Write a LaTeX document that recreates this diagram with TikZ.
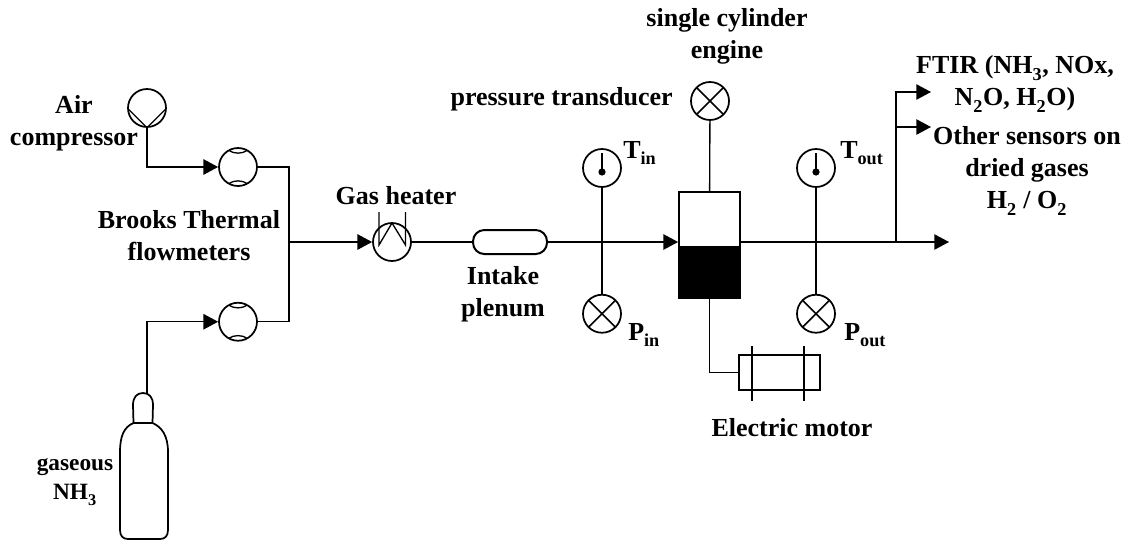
\documentclass[tikz,border=0pt]{standalone}
\usepackage{fontspec}
\setmainfont{Liberation Serif}
\usetikzlibrary{positioning,arrows.meta}
\def\subs#1{\raisebox{-1.5pt}{\textsubscript{#1}}}

\begin{document}
\begin{tikzpicture}[x=0.75pt,y=-0.75pt]
\tikzset{main/.style={circle, minimum size=28.5pt, inner sep=0pt, line width=1.3pt, draw=black, fill=white}}
\tikzset{connect/.style={-{Triangle[length=11pt,width=11.5pt]}, line width=1pt}}
\tikzset{pipe/.style={line width=1pt}}
\tikzset{lbl/.style={font=\fontsize{19.5}{24}\selectfont\bfseries, align=center, inner sep=0pt}}
\tikzset{crossed/.style={main, path picture={
  \draw[line width=1.3pt] (-19,-19) -- (19,19);
  \draw[line width=1.3pt] (-19,19) -- (19,-19);}}}
\tikzset{thermo/.style={main, path picture={
  \draw[line width=1.3pt] (0,-15) -- (0,4);
  \fill[black] (0,4) circle (2.7pt);}}}
\tikzset{meter/.style={main, path picture={
  \draw[pipe] (-9,-16.5) .. controls (-4,-13) and (4,-13) .. (9,-16.5);
  \draw[pipe] (-9,16.5) .. controls (-4,13) and (4,13) .. (9,16.5);}}}
\tikzset{pump/.style={main, path picture={
  \draw[pipe] (-18,1.7) -- (0,19.7) -- (18,1.7);}}}
\useasboundingbox (0,0) rectangle (1130,543);

% feed lines
  \node[pump] (comp) at (147,108) {};
  \node[meter] (ftop) at (238,167) {};
  \node[meter] (fbot) [below=86.25pt of ftop] {};
  \coordinate (bottletop) at (147,393);
  \coordinate (mix) at (289,242);

  \draw[line width=1.3pt] (133.5,423) -- (133,405) .. controls (133,397) and (137,393) .. (143,393)
    .. controls (149,393) and (153,397) .. (153,405) -- (152.5,423) -- cycle;
  \draw[line width=1.3pt] (133.5,423) .. controls (124,427) and (120,436) .. (120,452) -- (120,530)
    .. controls (120,536) and (123,539) .. (128,539) -- (160,539)
    .. controls (165,539) and (168,536) .. (168,530) -- (168,452)
    .. controls (168,436) and (162,427) .. (152.5,423);

  \draw[connect] (comp) |- (ftop);
  \draw[connect] (bottletop) |- (fbot);
  \draw[pipe] (ftop) -| (mix);
  \draw[pipe] (fbot) -| (mix);

% intake
  \node[main] (heater) at (392,242) {};
  \draw[pipe] ([shift={(-13,-30)}]heater.center) -- ++(0,33) -- ++(13,-22) -- ++(13.5,22) -- ++(0,-33);
  \node[rectangle, minimum width=55.5pt, minimum height=18pt, rounded corners=8.5pt, line width=1.5pt, draw=black] (plenum) at (510,242) {};
  \draw[connect] (mix) -- (heater);
  \draw[pipe] (heater) -- (plenum);

% cylinder
  \node[rectangle, minimum width=45.5pt, minimum height=41pt, line width=1.6pt, draw=black, fill=white] (head) at (709.5,219.5) {};
  \node[rectangle, minimum width=45.5pt, minimum height=36.5pt, line width=1.6pt, draw=black, fill=black] (piston) [below=0pt of head] {};
  \node[crossed] (ptrans) at (710,101) {};
  \node[rectangle, minimum width=60.5pt, minimum height=26pt, line width=1.6pt, draw=black] (motor) at (779.5,372.5) {};
  \coordinate (m1a) at (752,346);
  \coordinate (m1b) at (752,401);
  \coordinate (m2a) at (804,346);
  \coordinate (m2b) at (804,401);
  \draw[pipe] (m1a) -- (m1b);
  \draw[pipe] (m2a) -- (m2b);
  \draw[pipe] (ptrans) -- (head);
  \draw[pipe] (piston) |- (motor);
  \draw[connect] (plenum) -- (plenum -| head.west);

% sensors
  \node[thermo] (tin) at (602,168) {};
  \node[crossed] (pin) [below=79.5pt of tin] {};
  \node[thermo] (tout) at (816,168) {};
  \node[crossed] (pout) [below=79.5pt of tout] {};
  \draw[pipe] (tin) -- (pin);
  \draw[pipe] (tout) -- (pout);

% outlet
  \coordinate (outlet) at (949,242);
  \coordinate (branch) at (896,242);
  \coordinate (ftir) at (931,92);
  \coordinate (other) at (931,127);
  \draw[connect] (head.east |- outlet) -- (outlet);
  \draw[connect] (branch) |- (ftir);
  \draw[connect] (branch) |- (other);

% labels
  \node[lbl] (lcomp) at (74,123) {Air\\compressor};
  \node[lbl] (lbrooks) at (189,236) {Brooks Thermal\\flowmeters};
  \node[lbl,font=\fontsize{17.5}{22}\selectfont\bfseries] (lnh) at (75,482) {gaseous\\NH\subs{3}};
  \node[lbl] (lheater) at (396,196) {Gas heater};
  \node[lbl] (lplenum) at (503,294) {Intake\\plenum};
  \node[lbl,anchor=west] (ltin) at (623,153) {T\subs{in}};
  \node[lbl,anchor=west] (lpin) at (628,335) {P\subs{in}};
  \node[lbl,anchor=west] (ltout) at (840,153) {T\subs{out}};
  \node[lbl,anchor=west] (lpout) at (844,335) {P\subs{out}};
  \node[lbl,anchor=east] (lptrans) at (673,99) {pressure transducer};
  \node[lbl] (lengine) at (727,36) {single cylinder\\engine};
  \node[lbl] (lmotor) at (792,428) {Electric motor};
  \node[lbl] (lftir) at (1015,84) {FTIR (NH\subs{3}, NOx,\\N\subs{2}O, H\subs{2}O)};
  \node[lbl] (lother) at (1027,171) {Other sensors on\\dried gases\\H\subs{2} / O\subs{2}};
\end{tikzpicture}
\end{document}
